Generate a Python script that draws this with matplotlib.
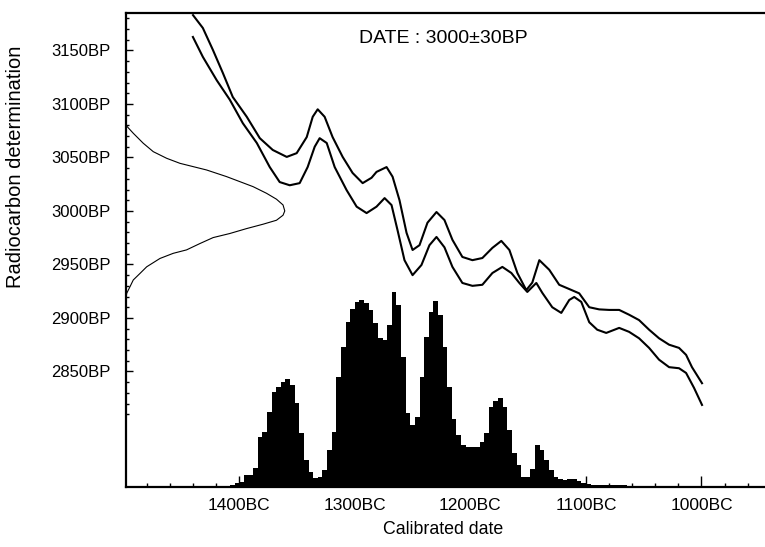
import numpy as np
import matplotlib.pyplot as plt
from matplotlib.ticker import MultipleLocator, FuncFormatter

plt.rcParams["font.family"] = ["Liberation Sans", "DejaVu Sans"]

# ---------------- data ----------------
# calibration curve, upper band: calendar year BC / radiocarbon BP
upper_bc = [1440, 1431.5, 1422.8, 1414.2, 1405.6, 1393.5, 1382.2, 1371.0, 1358.9, 1350.3,
            1341.6, 1336.4, 1332.1, 1326.1, 1319.2, 1310.5, 1301.9, 1293.2, 1285.5, 1281.2,
            1272.5, 1267.3, 1261.3, 1255.2, 1250.0, 1244.0, 1237.1, 1229.3, 1222.4, 1215.5,
            1206.9, 1198.2, 1189.6, 1180.9, 1173.2, 1166.2, 1159.3, 1151.6, 1146.4, 1140.3,
            1131.7, 1123.1, 1114.4, 1105.8, 1097.1, 1088.5, 1079.9, 1071.2, 1062.6, 1054.0,
            1045.3, 1036.7, 1028.0, 1019.4, 1013.3, 1008.2, 999.5]
upper_bp = [3183, 3171, 3150.5, 3129, 3106.5, 3088, 3068, 3057, 3050.5, 3054,
            3069, 3088, 3095, 3088, 3069, 3050.5, 3035.5, 3026, 3031, 3036.5,
            3041, 3032, 3010, 2979.5, 2963.5, 2968, 2989, 2999, 2991.5, 2973,
            2957, 2954, 2956, 2965.5, 2972, 2963.5, 2942, 2926, 2933, 2954,
            2945, 2931, 2927, 2923, 2910, 2908, 2907.5, 2907.5, 2903, 2898,
            2889, 2881, 2875, 2872, 2865.5, 2854, 2839]

# calibration curve, lower band
lower_bc = [1440.1, 1431.5, 1419.4, 1408.2, 1396.9, 1384.8, 1373.6, 1365.0, 1356.3, 1347.7,
            1340.8, 1334.7, 1330.4, 1324.3, 1317.4, 1307.1, 1298.4, 1289.8, 1281.2, 1274.2,
            1268.2, 1263.0, 1257.0, 1250.0, 1242.3, 1235.4, 1229.3, 1222.4, 1215.5, 1206.9,
            1198.2, 1189.6, 1180.9, 1172.3, 1164.5, 1157.6, 1150.7, 1142.9, 1137.7, 1129.1,
            1121.3, 1114.4, 1110.1, 1104.0, 1097.1, 1090.2, 1082.4, 1071.2, 1062.6, 1054.0,
            1045.3, 1036.7, 1028.0, 1019.4, 1013.3, 1006.4, 999.5]
lower_bp = [3162.6, 3144, 3122, 3104, 3082, 3063.5, 3041, 3027, 3024, 3026,
            3041, 3060, 3068, 3063.5, 3041, 3019.5, 3004, 2998, 3004, 3012,
            3005.5, 2982, 2954, 2940, 2949.5, 2968, 2975.7, 2966, 2947.7, 2932.7,
            2930, 2931, 2942, 2947.7, 2942, 2932.7, 2924.3, 2932.7, 2923.4, 2910,
            2904.7, 2916.8, 2919.6, 2915, 2896, 2889, 2886, 2890.7, 2887, 2881,
            2872, 2861, 2854, 2853, 2848.6, 2834.6, 2818.7]

# measured date distribution drawn against the left axis
date_bc = [1498, 1491.7, 1483.1, 1474.4, 1462.8, 1451.3, 1439.8, 1428.3, 1411.0, 1399.5,
           1388.0, 1376.4, 1367.8, 1362.1, 1360.6, 1362.1, 1367.8, 1379.4, 1393.7, 1408.2,
           1422.6, 1434.1, 1445.6, 1457.1, 1468.6, 1480.1, 1485.9, 1491.7, 1494.5, 1497.4, 1498]
date_bp = [3080, 3072.6, 3063.3, 3055.4, 3049.2, 3044.5, 3041.4, 3038.3, 3032.1, 3027.4,
           3022.7, 3016.5, 3011, 3005.6, 3000, 2996, 2991.3, 2987.6, 2983.5, 2978.9,
           2975.1, 2969.5, 2963.6, 2960.4, 2955.6, 2947.8, 2941.6, 2935.5, 2929.3, 2923, 2918.4]

# calibrated probability histogram, 4-year bins (start year BC, relative height)
hist_start = [1416, 1412, 1408, 1404, 1400, 1396, 1392, 1388, 1384, 1380,
              1376, 1372, 1368, 1364, 1360, 1356, 1352, 1348, 1344, 1340,
              1336, 1332, 1328, 1324, 1320, 1316, 1312, 1308, 1304, 1300,
              1296, 1292, 1288, 1284, 1280, 1276, 1272, 1268, 1264, 1260,
              1256, 1252, 1248, 1244, 1240, 1236, 1232, 1228, 1224, 1220,
              1216, 1212, 1208, 1204, 1200, 1196, 1192, 1188, 1184, 1180,
              1176, 1172, 1168, 1164, 1160, 1156, 1152, 1148, 1144, 1140,
              1136, 1132, 1128, 1124, 1120, 1116, 1112, 1108, 1104, 1100,
              1096, 1092, 1088, 1084, 1080, 1076, 1072, 1068, 1064, 1060,
              1056, 1052, 1048, 1044, 1040]
hist_height = [0.5, 1, 2, 4, 5, 12, 12, 19, 50, 55,
               75, 95, 100, 105, 108, 102, 84, 54, 27, 15,
               9, 10, 17, 37, 55, 110, 140, 165, 178, 185,
               187, 184, 177, 164, 149, 147, 162, 195, 182, 130,
               74, 62, 70, 110, 150, 175, 186, 172, 140, 100,
               68, 52, 42, 40, 40, 40, 45, 54, 80, 86,
               89, 80, 57, 34, 22, 10, 10, 18, 42, 37,
               27, 17, 10, 8, 7, 8, 8, 6, 4, 3,
               2, 2, 2, 2, 2, 2, 2, 2, 1, 1,
               1, 1, 1, 1, 1]

x_major = [1400, 1300, 1200, 1100, 1000]
y_major = [2850, 2900, 2950, 3000, 3050, 3100, 3150]
title_text = "DATE : 3000\u00b130BP"

# ---------------- figure ----------------
fig = plt.figure(figsize=(7.65, 5.47), dpi=100)
ax = fig.add_axes([126 / 765, 60 / 547, 639 / 765, 474 / 547])

ax.set_xlim(1498, 945)
ax.set_ylim(2742, 3185)

ax.plot(upper_bc, upper_bp, color="black", lw=1.5)
ax.plot(lower_bc, lower_bp, color="black", lw=1.5)
ax.plot(date_bc, date_bp, color="black", lw=0.8)

# histogram on its own vertical scale
ax2 = ax.twinx()
ax2.set_ylim(0, 474)
ax2.bar(hist_start, hist_height, width=-4, align="edge", color="black", lw=0)
ax2.set_yticks([])
for s in ax2.spines.values():
    s.set_visible(False)

# axes styling
ax.spines["right"].set_visible(False)
for s in ["left", "bottom", "top"]:
    ax.spines[s].set_linewidth(1.6)

ax.xaxis.set_major_locator(plt.FixedLocator(x_major))
ax.xaxis.set_minor_locator(MultipleLocator(20))
ax.xaxis.set_major_formatter(FuncFormatter(lambda v, p: f"{int(v)}BC"))
ax.yaxis.set_major_locator(plt.FixedLocator(y_major))
ax.yaxis.set_minor_locator(plt.FixedLocator(list(range(2810, 3190, 10))))
ax.yaxis.set_major_formatter(FuncFormatter(lambda v, p: f"{int(v)}BP"))

ax.tick_params(axis="x", which="major", direction="in", length=8, width=1, pad=8,
               labelsize=12.5, top=False)
ax.tick_params(axis="x", which="minor", direction="in", length=3, width=1, top=False)
ax.tick_params(axis="y", which="major", direction="in", length=5, width=1, pad=11,
               labelsize=12)
ax.tick_params(axis="y", which="minor", direction="in", length=2, width=1)

ax.text(0.364, 0.946, title_text, transform=ax.transAxes, fontsize=14,
        ha="left", va="center")

fig.text(443 / 765, 1 - 530 / 547, "Calibrated date", fontsize=12.8,
         ha="center", va="center")
fig.text(16 / 765, 1 - 167 / 547, "Radiocarbon determination", fontsize=14.5,
         rotation=90, ha="center", va="center")

fig.savefig("out.png", dpi=100)
